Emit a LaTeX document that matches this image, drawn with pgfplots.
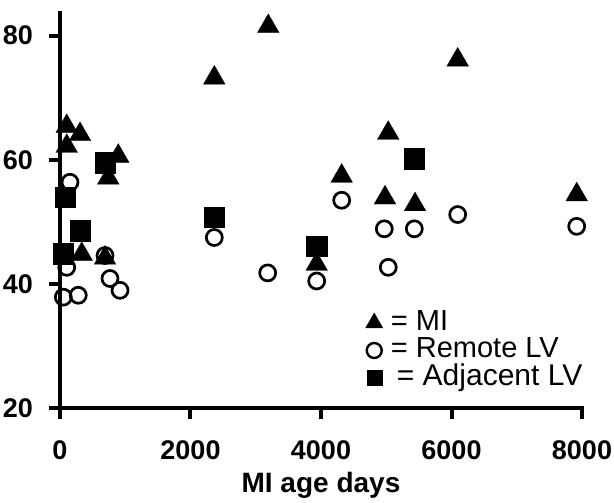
\documentclass[border=0pt]{standalone}
\usepackage{pgfplots}
\pgfplotsset{compat=1.18}
\usepackage{fontspec}
\setmainfont{Liberation Sans}
\begin{document}
\begin{tikzpicture}
\useasboundingbox (-60pt,-94.7pt) rectangle (554pt,408.3pt);
\begin{axis}[
  at={(0,0)}, anchor=south west,
  scale only axis, width=522pt, height=395pt,
  xmin=0, xmax=8000, ymin=20, ymax=83.6,
  axis x line=bottom, axis y line=left,
  axis line style={-, line width=4pt, line cap=rect},
  xtick={0,2000,4000,6000,8000}, ytick={20,40,60,80},
  minor tick num=0,
  tick align=outside, major tick length=11pt,
  tick style={line width=4pt, black},
  /pgf/number format/1000 sep={},
  /pgf/number format/assume math mode=true,
  ticklabel style={font=\bfseries\fontsize{27}{27}\selectfont, inner sep=0pt},
  xticklabel style={anchor=base, yshift=-40.7pt},
  yticklabel style={anchor=east, xshift=-16pt},
  xlabel={MI age days},
  xlabel style={font=\bfseries\fontsize{28}{28}\selectfont, at={(axis description cs:0.5,0)}, anchor=base, yshift=-84.5pt, inner sep=0pt},
  legend style={at={(0.585,0.25)}, anchor=north west, draw=none, fill=none,
    font=\fontsize{29}{29}\selectfont, inner sep=0pt, row sep=1pt, column sep=8pt,
    nodes={inner sep=0pt, text height=20.5pt, text depth=6pt}},
  legend cell align=left,
  clip=false,
]
\addlegendimage{only marks, mark=triangle*, mark size=10pt, mark options={fill=black, draw=black, line width=0.3pt}}
\addlegendentry{= MI}
\addlegendimage{only marks, mark=o, mark size=7.5pt, mark options={draw=black, line width=2.4pt}}
\addlegendentry{= Remote LV}
\addlegendimage{only marks, mark=square*, mark size=7.5pt, mark options={fill=black, draw=black, line width=0.3pt}}
\addlegendentry{\hspace{6pt}\fontsize{30}{30}\selectfont = Adjacent LV}
% Remote LV (circles)
\addplot[forget plot, only marks, mark=o, mark size=8pt, mark options={draw=black, line width=2.7pt, fill=white}] coordinates {
(153,56.4) (103,42.7) (51,37.9) (280,38.2) (690,44.6) (766,40.9) (920,39.0)
(4317,53.5) (4970,48.9) (5430,48.9) (5031,42.7) (2365,47.5) (3183,41.8)
(3934,40.5) (7919,49.3) (6095,51.2)
};
% MI (triangles)
\addplot[forget plot, only marks, mark=triangle*, mark size=12.5pt, mark options={fill=black, draw=black, line width=0.3pt}] coordinates {
(103,65.4) (307,64.1) (103,62.2) (893,60.6) (740,57.1) (333,44.8) (690,44.2)
(3192,81.5) (2365,73.2) (5031,64.3) (4317,57.4) (4981,53.9) (5441,52.8)
(3934,43.2) (6095,76.1) (7919,54.4)
};
% Adjacent LV (squares)
\addplot[forget plot, only marks, mark=square*, mark size=10.3pt, mark options={fill=black, draw=black, line width=0.3pt}] coordinates {
(77,54.0) (307,48.6) (51,44.9) (690,59.6) (5430,60.2) (2365,50.8) (3934,46.1)
};
\end{axis}
\end{tikzpicture}
\end{document}
